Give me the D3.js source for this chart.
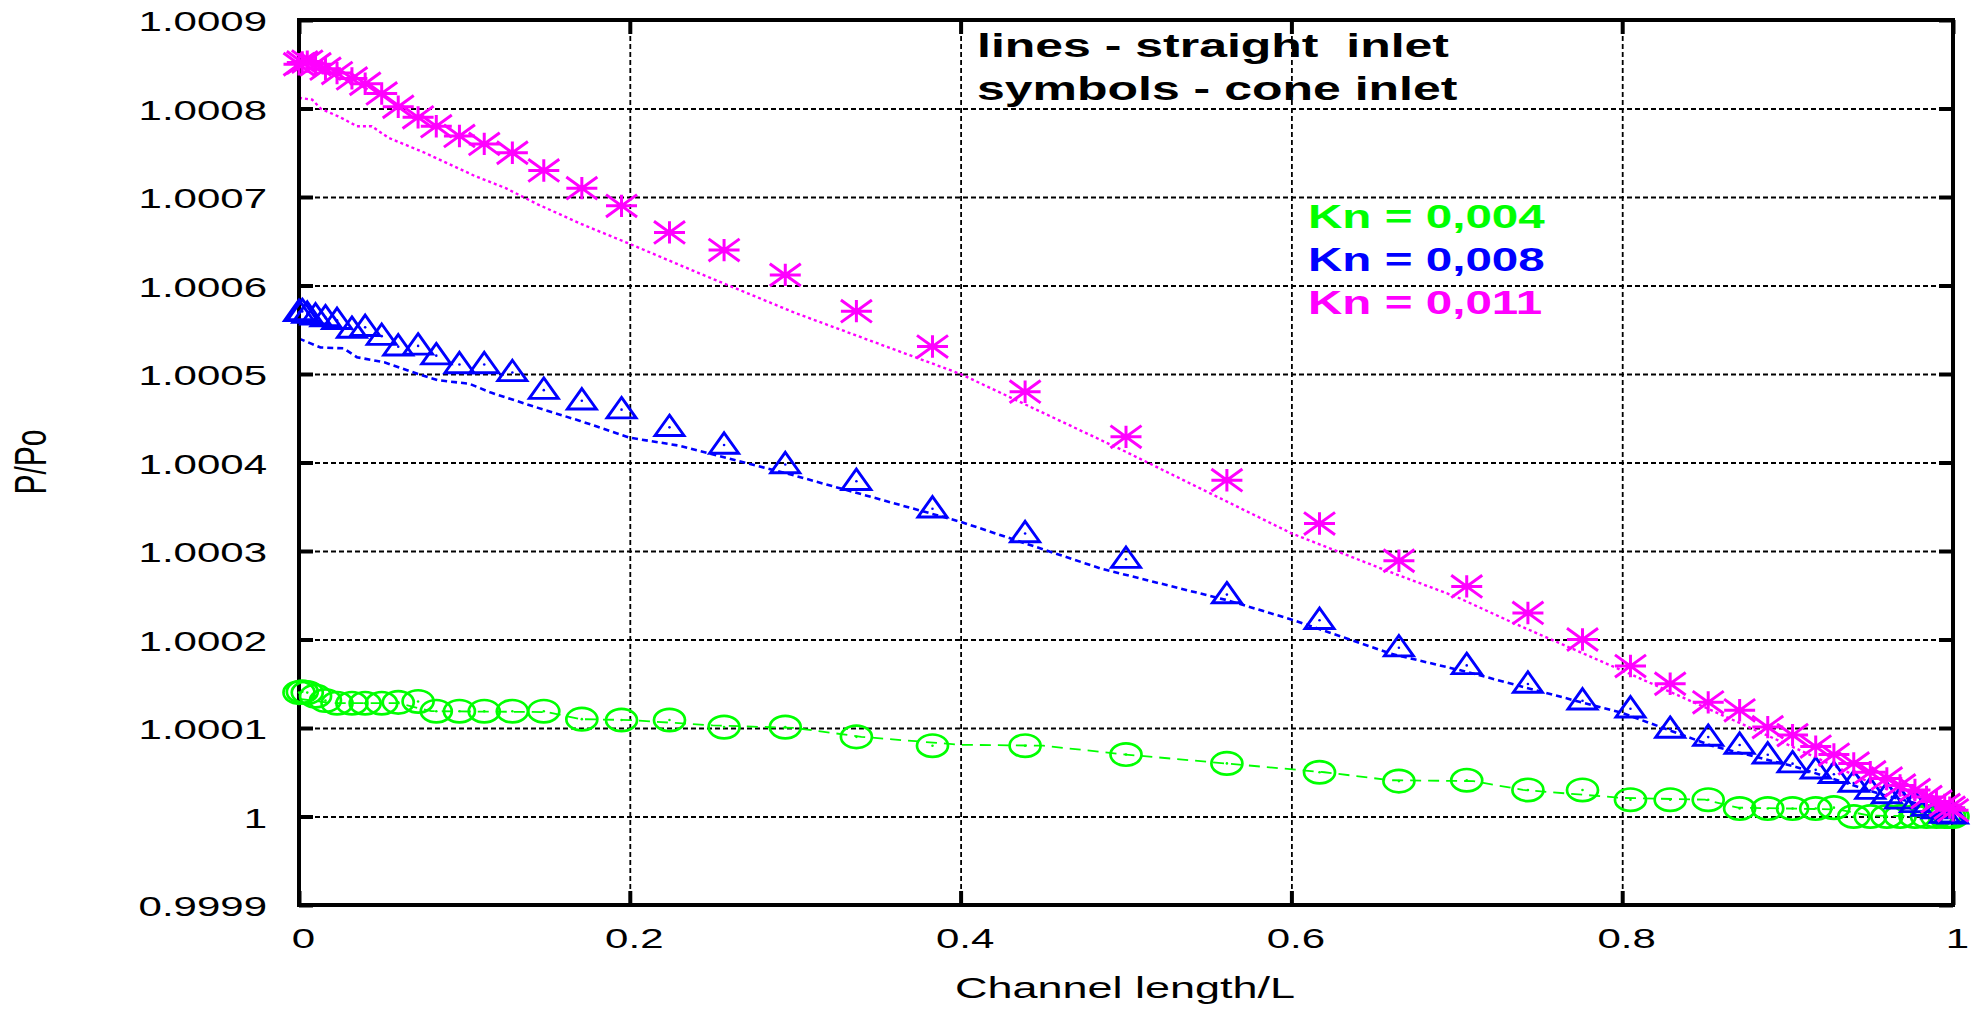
<!DOCTYPE html>
<html>
<head>
<meta charset="utf-8">
<script src="https://cdn.jsdelivr.net/npm/d3@7"></script>
<style>
  html, body { margin: 0; padding: 0; background: #fff; }
  svg { display: block; font-family: "Liberation Sans", Arial, Helvetica, sans-serif; }
</style>
</head>
<body>
<svg id="chart" width="1971" height="1009"></svg>
<script>
// Channel positions of the cone-inlet results (shared mesh)
const meshX = [0, 0.002, 0.005, 0.010, 0.016, 0.023, 0.032, 0.040, 0.050, 0.060,
  0.072, 0.083, 0.097, 0.112, 0.129, 0.148, 0.171, 0.195, 0.224, 0.257,
  0.294, 0.337, 0.383, 0.439, 0.500, 0.561, 0.617, 0.665, 0.706, 0.743,
  0.776, 0.805, 0.829, 0.852, 0.871, 0.888, 0.903, 0.917, 0.928, 0.940,
  0.950, 0.960, 0.968, 0.977, 0.984, 0.990, 0.995, 0.998, 1.000];

// Cone inlet, P/Po
const coneKn004 = [1.000140, 1.000141, 1.000140, 1.000136, 1.000131, 1.000128, 1.000128, 1.000128, 1.000128, 1.000129,
  1.000130, 1.000119, 1.000119, 1.000119, 1.000119, 1.000119, 1.000110, 1.000109, 1.000109, 1.000101,
  1.000101, 1.000090, 1.000080, 1.000080, 1.000070, 1.000060, 1.000050, 1.000040, 1.000041, 1.000030,
  1.000030, 1.000019, 1.000019, 1.000019, 1.000009, 1.000009, 1.000009, 1.000009, 1.000010, 1.000000,
  1.000000, 1.000000, 1.000000, 1.000000, 1.000000, 1.000000, 1.000000, 1.000000, 1.000000];
const coneKn008 = [1.000572, 1.000573, 1.000570, 1.000568, 1.000566, 1.000563, 1.000553, 1.000555, 1.000545, 1.000533,
  1.000534, 1.000523, 1.000513, 1.000513, 1.000504, 1.000484, 1.000472, 1.000462, 1.000442, 1.000422,
  1.000400, 1.000381, 1.000350, 1.000322, 1.000293, 1.000253, 1.000224, 1.000193, 1.000173, 1.000152,
  1.000133, 1.000124, 1.000101, 1.000092, 1.000083, 1.000072, 1.000062, 1.000055, 1.000050, 1.000040,
  1.000032, 1.000027, 1.000021, 1.000017, 1.000013, 1.000010, 1.000005, 1.000005, 1.000004];
const coneKn011 = [1.000850, 1.000852, 1.000853, 1.000850, 1.000845, 1.000840, 1.000834, 1.000828, 1.000817, 1.000802,
  1.000790, 1.000780, 1.000769, 1.000760, 1.000750, 1.000730, 1.000710, 1.000690, 1.000660, 1.000640,
  1.000612, 1.000571, 1.000531, 1.000480, 1.000429, 1.000380, 1.000331, 1.000289, 1.000260, 1.000230,
  1.000200, 1.000170, 1.000150, 1.000129, 1.000120, 1.000101, 1.000092, 1.000079, 1.000070, 1.000060,
  1.000050, 1.000043, 1.000035, 1.000030, 1.000022, 1.000017, 1.000013, 1.000010, 1.000007];

// Straight inlet, P/Po
const straightX004 = [0, 0.02, 0.06, 0.08, 0.15, 0.17, 0.2, 0.25, 0.3, 0.34, 0.4, 0.45,
  0.5, 0.56, 0.62, 0.66, 0.71, 0.74, 0.8, 0.85, 0.87, 0.93, 0.95, 1.0];
const straightKn004 = [1.000133, 1.000128, 1.000128, 1.000119, 1.000118, 1.000110, 1.000109, 1.000103, 1.000100, 1.000090, 1.000081, 1.000080,
  1.000070, 1.000060, 1.000050, 1.000041, 1.000040, 1.000030, 1.000021, 1.000019, 1.000010, 1.000008, 1.000001, 1.000000];
const straightX008 = [0, 0.013, 0.027, 0.035, 0.052, 0.072, 0.084, 0.103, 0.116, 0.144, 0.170, 0.200, 0.230,
  0.300, 0.400, 0.485, 0.562, 0.601, 0.660, 0.707, 0.747, 0.800, 0.854, 0.905, 0.955, 1.000];
const straightKn008 = [1.000540, 1.000530, 1.000529, 1.000519, 1.000513, 1.000500, 1.000493, 1.000489, 1.000479, 1.000462, 1.000447, 1.000428, 1.000419,
  1.000385, 1.000333, 1.000280, 1.000244, 1.000222, 1.000184, 1.000163, 1.000143, 1.000117, 1.000080, 1.000056, 1.000026, 1.000004];
const straightX011 = [0, 0.008, 0.013, 0.025, 0.035, 0.044, 0.054, 0.076, 0.106, 0.125, 0.144, 0.170, 0.200,
  0.243, 0.300, 0.400, 0.500, 0.600, 0.660, 0.700, 0.735, 0.800, 0.854, 0.905, 0.955, 1.000];
const straightKn011 = [1.000812, 1.000810, 1.000800, 1.000790, 1.000780, 1.000780, 1.000767, 1.000750, 1.000724, 1.000710, 1.000692, 1.000670, 1.000647,
  1.000613, 1.000569, 1.000500, 1.000412, 1.000320, 1.000276, 1.000248, 1.000218, 1.000165, 1.000120, 1.000077, 1.000034, 1.000004];

// Axis ticks
const xTicks = [0, 0.2, 0.4, 0.6, 0.8, 1];
const xTickLabels = ["0", "0.2", "0.4", "0.6", "0.8", "1"];
const yTicks = [0.9999, 1.0000, 1.0001, 1.0002, 1.0003, 1.0004, 1.0005, 1.0006, 1.0007, 1.0008, 1.0009];
const yTickLabels = ["0.9999", "1", "1.0001", "1.0002", "1.0003", "1.0004", "1.0005", "1.0006", "1.0007", "1.0008", "1.0009"];

const kinds = ["Kn = 0,004", "Kn = 0,008", "Kn = 0,011"];
const colors = ["#00ff00", "#0000ff", "#ff00ff"];

// ---- layout ----
const L = 299, R = 1953, T = 20, B = 905;
const SX = 1.5;  // horizontal glyph stretch
const svg = d3.select("#chart");

const x = d3.scaleLinear().domain([0, 1]).range([L, R]);
const y = d3.scaleLinear().domain([0.9999, 1.0009]).range([B, T]);

// grid
const grid = svg.append("g").attr("class", "grid");
grid.append("g").attr("transform", `translate(0,${B})`)
  .call(d3.axisBottom(x).tickValues(xTicks.slice(1, -1)).tickSize(-(B - T)).tickFormat(""));
grid.append("g").attr("transform", `translate(${L},0)`)
  .call(d3.axisLeft(y).tickValues(yTicks.slice(1, -1)).tickSize(-(R - L)).tickFormat(""));
grid.selectAll(".domain").remove();
grid.selectAll("line").attr("stroke", "#000").attr("stroke-width", 1.8).attr("stroke-dasharray", "5,3");

// data lines (straight inlet)
const lineGen = d3.line().x(d => x(d[0])).y(d => y(d[1]));
const straightSets = [
  { xs: straightX004, ys: straightKn004, c: colors[0], dash: "11,7", w: 1.8 },
  { xs: straightX008, ys: straightKn008, c: colors[1], dash: "6,4", w: 2.6 },
  { xs: straightX011, ys: straightKn011, c: colors[2], dash: "3,3", w: 2.4 }
];
straightSets.forEach(s => {
  svg.append("path")
    .datum(s.xs.map((v, i) => [v, s.ys[i]]))
    .attr("d", lineGen)
    .attr("fill", "none")
    .attr("stroke", s.c)
    .attr("stroke-width", s.w)
    .attr("stroke-dasharray", s.dash);
});

// frame and inward ticks
const frame = svg.append("g").attr("class", "frame");
function tickAxis(axis, tx, ty) {
  const g = frame.append("g").attr("transform", `translate(${tx},${ty})`).call(axis);
  g.selectAll(".domain").remove();
  g.selectAll(".tick line").attr("stroke", "#000").attr("stroke-width", 4);
  return g;
}
const gxB = tickAxis(d3.axisBottom(x).tickValues(xTicks).tickSize(-14).tickPadding(0)
  .tickFormat((d, i) => xTickLabels[i]), 0, B);
tickAxis(d3.axisTop(x).tickValues(xTicks).tickSize(-14).tickFormat(""), 0, T);
const gyL = tickAxis(d3.axisLeft(y).tickValues(yTicks).tickSize(-14).tickPadding(0)
  .tickFormat((d, i) => yTickLabels[i]), L, 0);
tickAxis(d3.axisRight(y).tickValues(yTicks).tickSize(-14).tickFormat(""), R, 0);

frame.append("rect")
  .attr("x", L).attr("y", T).attr("width", R - L).attr("height", B - T)
  .attr("fill", "none").attr("stroke", "#000").attr("stroke-width", 4);

gxB.selectAll(".tick text")
  .attr("y", null).attr("dy", null)
  .attr("transform", `translate(4,43) scale(${SX},1)`)
  .attr("font-size", 28).attr("fill", "#000")
  .attr("font-family", "Liberation Sans, Arial, sans-serif");
gyL.selectAll(".tick text")
  .attr("x", null).attr("dy", null)
  .attr("transform", `translate(-32,10.5) scale(${SX},1)`)
  .attr("font-size", 28).attr("fill", "#000")
  .attr("font-family", "Liberation Sans, Arial, sans-serif");

// cone inlet symbols
const sym = svg.append("g").attr("class", "symbols");
const mw = 15.5, mh = 11.2;

sym.append("g").selectAll("g").data(meshX.map((v, i) => [v, coneKn004[i]])).join("g")
  .attr("transform", d => `translate(${x(d[0])},${y(d[1])})`)
  .each(function () {
    const g = d3.select(this);
    g.append("ellipse").attr("rx", mw).attr("ry", mh)
      .attr("fill", "none").attr("stroke", colors[0]).attr("stroke-width", 2.7);
    g.append("circle").attr("r", 1.3).attr("fill", colors[0]);
  });

sym.append("g").selectAll("g").data(meshX.map((v, i) => [v, coneKn008[i]])).join("g")
  .attr("transform", d => `translate(${x(d[0])},${y(d[1])})`)
  .each(function () {
    const g = d3.select(this);
    g.append("path").attr("d", `M0,${-mh + 1}L${mw - 1},${mh - 1}L${-(mw - 1)},${mh - 1}Z`)
      .attr("fill", "none").attr("stroke", colors[1]).attr("stroke-width", 2.9)
      .attr("stroke-linejoin", "miter");
    g.append("circle").attr("r", 1.3).attr("cy", 2).attr("fill", colors[1]);
  });

sym.append("g").selectAll("path").data(meshX.map((v, i) => [v, coneKn011[i]])).join("path")
  .attr("transform", d => `translate(${x(d[0])},${y(d[1])})`)
  .attr("d", `M${-mw},0H${mw}M0,${-mh}V${mh}M${-mw},${-mh}L${mw},${mh}M${-mw},${mh}L${mw},${-mh}`)
  .attr("fill", "none").attr("stroke", colors[2]).attr("stroke-width", 3);

// axis titles
svg.append("text")
  .attr("transform", `translate(1125,998) scale(${SX},1)`)
  .attr("text-anchor", "middle").attr("font-size", 30).attr("fill", "#000")
  .text("Channel length/L");
svg.append("text")
  .attr("transform", `translate(46,462) scale(${SX},1) rotate(-90)`)
  .attr("text-anchor", "middle").attr("font-size", 30).attr("fill", "#000")
  .text("P/Po");

// annotations
const notes = ["lines - straight\u00a0 inlet", "symbols - cone inlet"];
svg.append("g").selectAll("text").data(notes).join("text")
  .attr("transform", (d, i) => `translate(977,${57 + i * 43}) scale(1.47,1)`)
  .attr("font-size", 34).attr("font-weight", "bold").attr("fill", "#000")
  .text(d => d);

svg.append("g").selectAll("text").data(kinds).join("text")
  .attr("transform", (d, i) => `translate(1308,${228 + i * 43}) scale(1.40,1)`)
  .attr("font-size", 34).attr("font-weight", "bold")
  .attr("fill", (d, i) => colors[i])
  .text(d => d);
</script>
</body>
</html>
